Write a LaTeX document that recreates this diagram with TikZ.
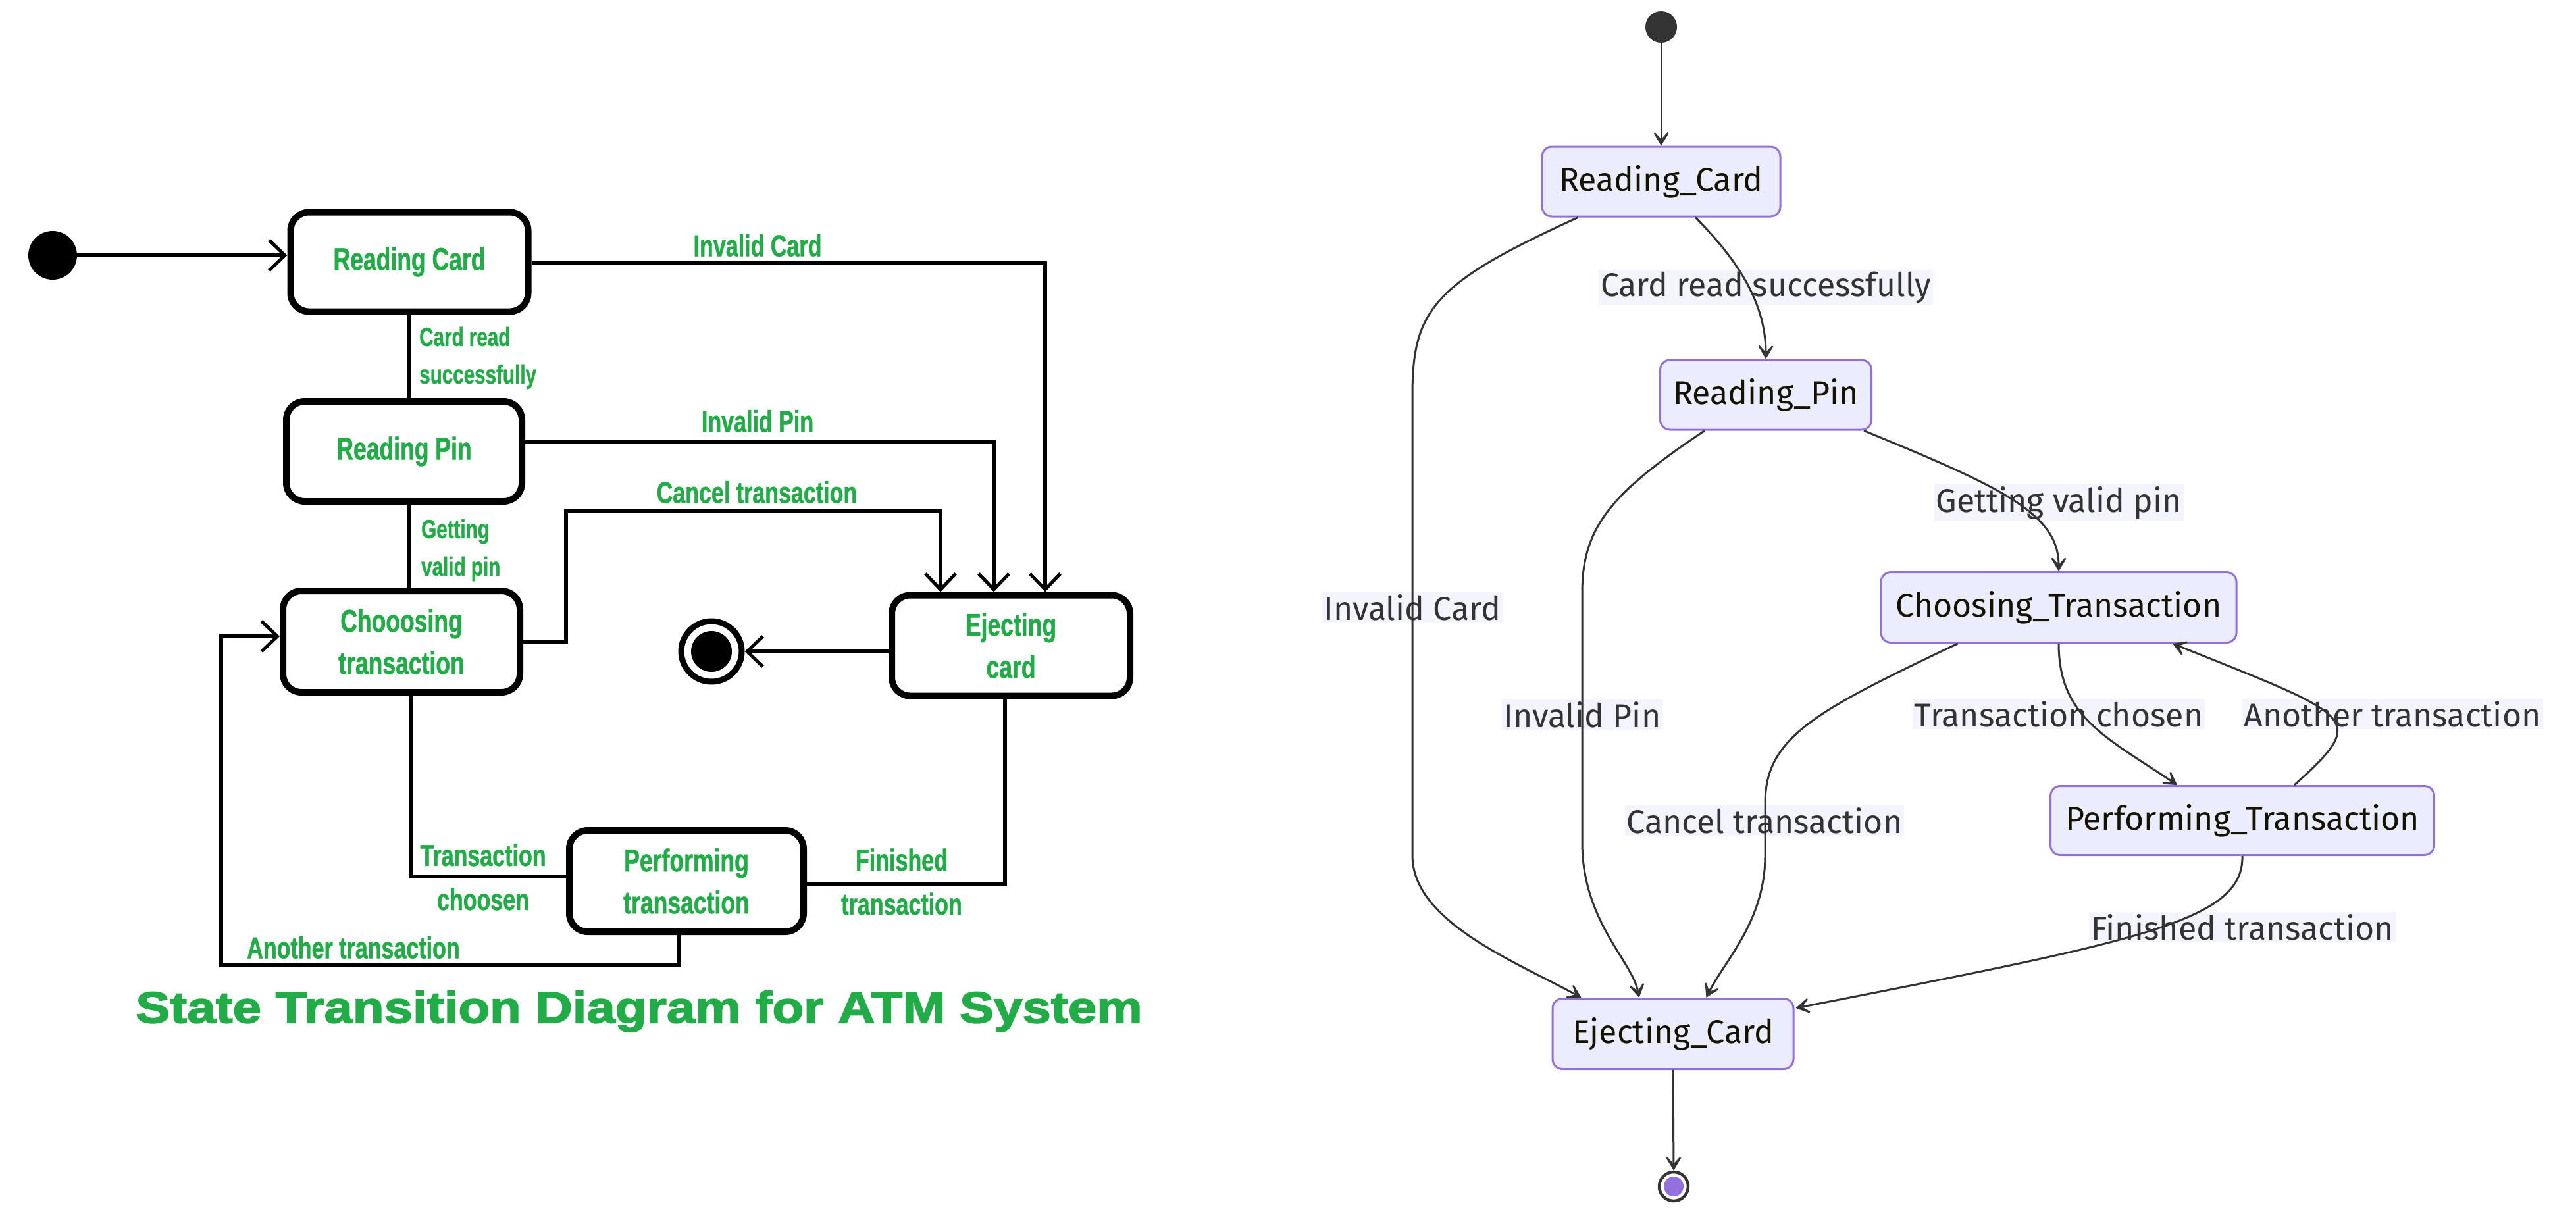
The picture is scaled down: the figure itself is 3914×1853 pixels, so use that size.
\documentclass[tikz,border=0pt]{standalone}
\usepackage{fontspec}
\usetikzlibrary{arrows.meta,calc}
\newfontfamily\condf{Liberation Sans}[FakeStretch=0.74,FakeBold=1]
\newfontfamily\titlef{Liberation Sans}[FakeStretch=1.165,FakeBold=2.5]
\newfontfamily\mfont{Fira Sans}
\definecolor{ggreen}{RGB}{34,172,72}
\definecolor{mpurple}{HTML}{9370DB}
\definecolor{mfill}{HTML}{ECECFF}
\definecolor{mline}{HTML}{333333}
\definecolor{mtext}{HTML}{131300}
\definecolor{lblbg}{HTML}{F4F4FE}
\tikzset{
 lbox/.style={draw=black, line width=10pt, rounded corners=28pt, text=ggreen, font=\condf\bfseries\fontsize{48}{64}\selectfont, align=center, inner sep=0pt},
 lline/.style={line width=6pt, draw=black},
 larrow/.style={lline, -{Straight Barb[length=24pt,width=46pt,line width=5pt]}},
 llabel/.style={text=ggreen, font=\condf\bfseries\fontsize{46}{67}\selectfont, inner sep=0pt},
 slabel/.style={text=ggreen, font=\condf\bfseries\fontsize{40}{57}\selectfont, inner sep=0pt, align=left, anchor=west},
 rbox/.style={draw=mpurple, fill=mfill, line width=3pt, rounded corners=15pt, text=mtext, font=\mfont\fontsize{50}{60}\selectfont, inner sep=0pt},
 rlabel/.style={fill=lblbg, text=mline, font=\mfont\fontsize{50}{60}\selectfont, inner sep=3pt},
 redge/.style={draw=mline, line width=3pt, -{Stealth[length=30pt,width=36pt,inset=20pt]}},
}
\begin{document}
\begin{tikzpicture}[x=1pt,y=-1pt]
\fill[white] (0,0) rectangle (3914,1853);
\useasboundingbox (0,0) rectangle (3914,1853);

% ---------------- left diagram ----------------
\node[circle, fill=black, minimum size=74pt, inner sep=0pt] (li) at (80,388) {};
\node[lbox, minimum width=361pt, minimum height=151pt] (lrc) at (622,398) {Reading Card};
\node[lbox, minimum width=358pt, minimum height=152pt] (lrp) at (614,686) {Reading Pin};
\node[lbox, minimum width=360pt, minimum height=154pt] (lct) at (610,975) {Chooosing\\transaction};
\node[lbox, minimum width=362pt, minimum height=153pt] (lec) at (1536,981) {Ejecting\\card};
\node[lbox, minimum width=356pt, minimum height=154pt] (lpf) at (1043,1339) {Performing\\transaction};
\node[circle, draw=black, line width=9pt, fill=white, minimum size=92pt, inner sep=0pt] (lfin) at (1081,990) {};
\node[circle, fill=black, minimum size=62pt, inner sep=0pt] (lfinin) at (1081,990) {};

\coordinate (v1) at (621,0);
\coordinate (ic) at (1588,400);
\coordinate (ip) at (1510,672);
\coordinate (cx1) at (860,777);
\coordinate (cx2) at (1429,777);
\coordinate (tc) at (625,1332);
\coordinate (fx) at (1527,1343);
\coordinate (a1) at (1032,1467);
\coordinate (a2) at (336,967);
\coordinate (ef) at (0,990);

\draw[larrow] (li.east) -- (li.east -| lrc.west);
\draw[lline] (lrc.south -| v1) -- (lrp.north -| v1);
\draw[lline] (lrp.south -| v1) -- (lct.north -| v1);
\draw[larrow] (lrc.east |- ic) -| (lec.north -| ic);
\draw[larrow] (lrp.east |- ip) -| (lec.north -| ip);
\draw[larrow] (lct.east) -| (cx1) -- (cx2) -- (lec.north -| cx2);
\draw[lline] (lct.south -| tc) |- (lpf.west |- tc);
\draw[lline] (lpf.east |- fx) -| (lec.south -| fx);
\draw[larrow] (lpf.south -| a1) -- (a1) -| (a2) -- (lct.west |- a2);
\draw[larrow] (lec.west |- ef) -- (lfin.east);

\node[slabel] (lcr) at (637,544) {Card read\\successfully};
\node[slabel] (lgv) at (640,836) {Getting\\valid pin};
\node[llabel] (lic) at (1151,373) {Invalid Card};
\node[llabel] (lip) at (1151,640) {Invalid Pin};
\node[llabel] (lcl) at (1150,748) {Cancel transaction};
\node[llabel, align=center] (ltc) at (734,1333) {Transaction\\choosen};
\node[llabel, align=center] (lft) at (1370,1340) {Finished\\transaction};
\node[llabel] (lat) at (537,1440) {Another transaction};
\node[text=ggreen, font=\titlef\bfseries\fontsize{67}{80}\selectfont, inner sep=0pt] (title) at (971,1537) {State Transition Diagram for ATM System};

% ---------------- right diagram ----------------
\node[circle, fill=mline, minimum size=48pt, inner sep=0pt] (ri) at (2524,41) {};
\node[rbox, minimum width=362pt, minimum height=106pt] (rrc) at (2524,276) {Reading\_Card};
\node[rbox, minimum width=321pt, minimum height=106pt] (rrp) at (2683,600) {Reading\_Pin};
\node[rbox, minimum width=540pt, minimum height=107pt] (rct) at (3128,923) {Choosing\_Transaction};
\node[rbox, minimum width=583pt, minimum height=105pt] (rpt) at (3407,1247) {Performing\_Transaction};
\node[rbox, minimum width=366pt, minimum height=107pt] (rec) at (2542,1571) {Ejecting\_Card};
\node[circle, draw=mline, line width=4.5pt, fill=white, minimum size=44pt, inner sep=0pt] (rfin) at (2543,1803) {};
\node[circle, fill=mpurple, minimum size=30pt, inner sep=0pt] (rfinin) at (2543,1803) {};

\node[rlabel] (e1) at (2683,437) {Card read successfully};
\node[rlabel] (e2) at (2146,923) {Invalid Card};
\node[rlabel] (e3) at (3128,764) {Getting valid pin};
\node[rlabel] (e4) at (2404,1086) {Invalid Pin};
\node[rlabel] (e5) at (3128,1085) {Transaction chosen};
\node[rlabel] (e6) at (3635,1085) {Another transaction};
\node[rlabel] (e7) at (2681,1247) {Cancel transaction};
\node[rlabel] (e8) at (3407,1409) {Finished transaction};

\draw[redge] (ri) -- (rrc.north);
\draw[redge] ($(rrc.south)+(52,0)$) .. controls (2640,395) and (2683,460) .. (rrp.north);
\draw[redge] ($(rrc.south west)+(56,0)$) .. controls (2179,430) and (2146,470) .. (2146,600) -- (2146,1300) .. controls (2146,1400) and (2300,1460) .. ($(rec.north west)+(45,0)$);
\draw[redge] ($(rrp.south west)+(69,0)$) .. controls (2450,748) and (2404,800) .. (2404,900) -- (2404,1280) .. controls (2404,1400) and (2480,1460) .. ($(rec.north west)+(133,0)$);
\draw[redge] ($(rrp.south east)+(-13,0)$) .. controls (3040,740) and (3128,780) .. (rct.north);
\draw[redge] ($(rct.south west)+(118,0)$) .. controls (2760,1080) and (2682,1120) .. (2682,1220) -- (2682,1300) .. controls (2682,1400) and (2620,1460) .. ($(rec.north west)+(235,0)$);
\draw[redge] (rct.south) .. controls (3128,1090) and (3200,1120) .. ($(rpt.north)+(-99,0)$);
\draw[redge] ($(rpt.north)+(79,0)$) .. controls (3600,1090) and (3580,1090) .. ($(rct.south)+(173,0)$);
\draw[redge] (rpt.south) .. controls (3409,1400) and (3250,1430) .. ($(rec.north east)+(2,16)$);
\draw[redge] (rec.south) -- (rfin.north);
\end{tikzpicture}
\end{document}
